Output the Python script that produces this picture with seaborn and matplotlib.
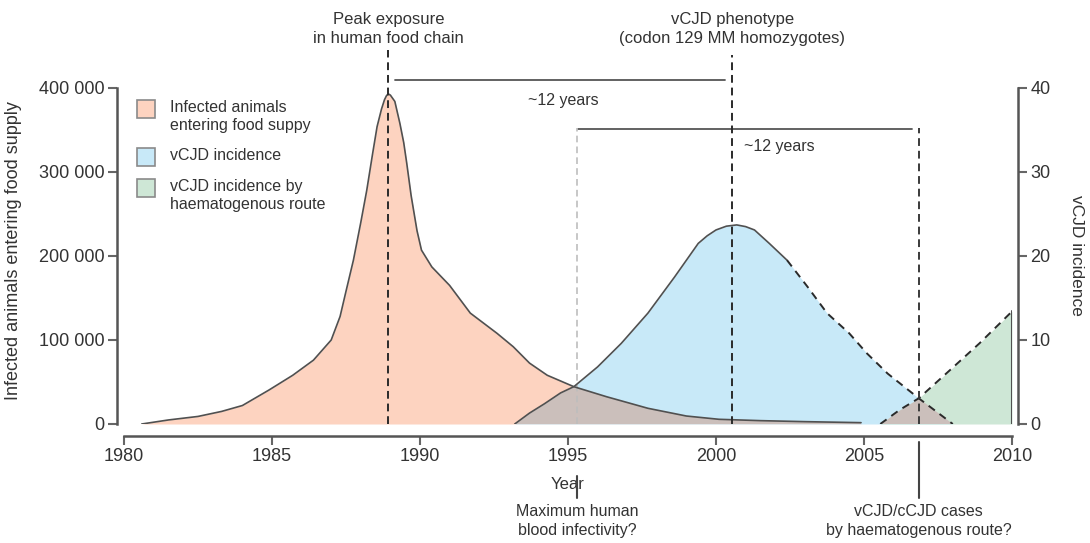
import matplotlib
matplotlib.use("Agg")
import matplotlib.pyplot as plt
from matplotlib.patches import Rectangle
from matplotlib.transforms import blended_transform_factory
import seaborn as sns

# Infected animals entering the food supply (left axis)
years_feed = [1980.6, 1981.5, 1982.5, 1983.3, 1984.0, 1984.9, 1985.7, 1986.4,
              1987.0, 1987.3, 1987.5, 1987.75, 1988.0, 1988.2, 1988.4, 1988.55,
              1988.7, 1988.8, 1988.87, 1988.93, 1989.0, 1989.15, 1989.32, 1989.45,
              1989.55, 1989.7, 1989.8, 1989.9, 1990.05, 1990.4, 1991.0, 1991.7,
              1992.6, 1993.15, 1993.7, 1994.3, 1995.2, 1996.3, 1997.7, 1999.0,
              2000.1, 2001.5, 2003.0, 2004.9]
infected_animals = [0, 4800, 9000, 15000, 22000, 40500, 58000, 76000,
                    100000, 128000, 158000, 195000, 240000, 278000, 322000, 354000,
                    375000, 386000, 391000, 393000, 391500, 384000, 358000, 335000,
                    311000, 272000, 251000, 230000, 207000, 187000, 165000, 132000,
                    108000, 92000, 72500, 58000, 44400, 32500, 18700, 9500,
                    5600, 4000, 2800, 1600]

# vCJD incidence (right axis)
years_vcjd = [1993.2, 1993.7, 1994.2, 1994.75, 1995.2, 1996.0, 1996.8, 1997.7,
              1998.6, 1999.4, 1999.7, 2000.0, 2000.35, 2000.7, 2001.0, 2001.3,
              2001.8, 2002.4, 2003.1, 2003.75, 2004.5, 2005.1, 2005.8, 2006.85,
              2008.0]
vcjd_incidence = [0, 1.3, 2.4, 3.7, 4.45, 6.8, 9.6, 13.2,
                  17.5, 21.5, 22.4, 23.1, 23.55, 23.7, 23.5, 23.1,
                  21.5, 19.5, 16.3, 13.2, 10.8, 8.4, 6.0, 3.06,
                  0]

# vCJD incidence by haematogenous route (right axis)
years_blood = [2005.55, 2006.2, 2006.85, 2007.9, 2008.9, 2010.0]
vcjd_blood = [0, 1.67, 3.06, 6.4, 9.6, 13.4]

x_ticks = [1980, 1985, 1990, 1995, 2000, 2005, 2010]
left_ticks = [0, 100000, 200000, 300000, 400000]
left_tick_labels = ["0", "100 000", "200 000", "300 000", "400 000"]
right_ticks = [0, 10, 20, 30, 40]

legend_labels = ["Infected animals\nentering food suppy",
                 "vCJD incidence",
                 "vCJD incidence by\nhaematogenous route"]

C_ORANGE = "#fdd3c0"
C_BLUE = "#c8e9f8"
C_GREEN = "#cee7d6"
C_OVERLAP = "#cbbfbb"
C_EDGE = "#505050"
C_DASH = "#2a2a2a"
C_SPINE = "#555555"
TEXT = "#333333"

sns.set_theme(style="ticks")
plt.rcParams["font.family"] = ["Liberation Sans", "DejaVu Sans"]

fig = plt.figure(figsize=(10.9, 5.43), dpi=100)
W, H = 1090.0, 543.0
ax = fig.add_axes([124 / W, 1 - 424 / H, 888 / W, 336 / H])
ax2 = ax.twinx()

# Filled areas
feed_fill = ax.fill_between(years_feed, infected_animals, 0, color=C_ORANGE,
                            lw=0, zorder=1)
vcjd_fill = ax2.fill_between(years_vcjd, vcjd_incidence, 0, color=C_BLUE,
                             lw=0, zorder=1)
blood_fill = ax2.fill_between(years_blood, vcjd_blood, 0, color=C_GREEN,
                              lw=0, zorder=1.2)

# Where two areas overlap, show the shared region in a muted tone
overlap_a = ax2.fill_between(years_vcjd, vcjd_incidence, 0, color=C_OVERLAP,
                             lw=0, zorder=1.5)
overlap_a.set_clip_path(feed_fill.get_paths()[0], ax.transData)
overlap_b = ax2.fill_between(years_blood, vcjd_blood, 0, color=C_OVERLAP,
                             lw=0, zorder=1.5)
overlap_b.set_clip_path(vcjd_fill.get_paths()[0], ax2.transData)

# Outlines
ax2.plot(years_feed, infected_animals, transform=ax.transData,
         color=C_EDGE, lw=1.2, zorder=3, solid_joinstyle="round")
sns.lineplot(x=years_vcjd[:18], y=vcjd_incidence[:18], ax=ax2,
             color=C_EDGE, lw=1.2, zorder=3, solid_joinstyle="round")
sns.lineplot(x=years_vcjd[17:], y=vcjd_incidence[17:], ax=ax2,
             color=C_DASH, lw=1.4, linestyle=(0, (4, 3)), zorder=3)
sns.lineplot(x=years_blood, y=vcjd_blood, ax=ax2,
             color=C_DASH, lw=1.4, linestyle=(0, (4, 3)), zorder=3)
ax2.plot([years_blood[-1], years_blood[-1]], [0, vcjd_blood[-1]],
         color=C_EDGE, lw=1.5, zorder=3)

# Axes limits and ticks
ax.set_xlim(1980, 2010)
ax.set_ylim(0, 400000)
ax2.set_ylim(0, 40)
ax.set_xticks(x_ticks)
ax.set_yticks(left_ticks, labels=left_tick_labels)
ax2.set_yticks(right_ticks)
ax2.set_xlim(1980, 2010)

for a in (ax, ax2):
    for s in a.spines.values():
        s.set_color(C_SPINE)
        s.set_linewidth(1.8)
    a.spines["top"].set_visible(False)
    a.tick_params(direction="out", length=6.5, width=1.5, color="#666666",
                  labelsize=13, labelcolor=TEXT, pad=2.5)
    a.grid(False)
ax.spines["right"].set_visible(False)
ax2.spines["left"].set_visible(False)
ax2.spines["bottom"].set_visible(False)
ax.spines["left"].set_position(("outward", 5))
ax.spines["bottom"].set_position(("outward", 8.6))
ax2.spines["right"].set_position(("outward", 4.3))
ax.spines["left"].set_bounds(0, 400000)
ax.spines["bottom"].set_bounds(1980, 2010)
ax2.spines["right"].set_bounds(0, 40)

ax.set_xlabel("Year", fontsize=12, color=TEXT, labelpad=8)
ax.set_ylabel("Infected animals entering food supply", fontsize=13, color=TEXT)
ax.yaxis.set_label_coords((22 - 124) / 888, (424 - 251) / 336)
ax2.set_ylabel("")
fig.text(1076 / W, 1 - 255 / H, "vCJD incidence", rotation=270, ha="center",
         va="center", fontsize=12.5, color=TEXT)

# Reference markers
ax2.axvline(1988.93, ymin=0, ymax=(424 - 50) / 336, clip_on=False,
            color=C_DASH, lw=1.4, linestyle=(0, (4, 2.5)), zorder=4)
ax2.axvline(2000.55, ymin=0, ymax=(424 - 55) / 336, clip_on=False,
            color=C_DASH, lw=1.4, linestyle=(0, (4, 2.5)), zorder=4)
ax2.axvline(2006.85, ymin=0, ymax=(424 - 128) / 336, clip_on=False,
            color="#3a3a3a", lw=1.4, linestyle=(0, (4, 2.5)), zorder=4)
ax2.axvline(1995.3, ymin=0, ymax=(424 - 128) / 336, clip_on=False,
            color="#bdbdbd", lw=1.2, linestyle=(0, (4, 2.5)), zorder=2.5)

ax2.axhline((424 - 80) / 336 * 40, xmin=(395 - 124) / 888, xmax=(725 - 124) / 888,
            clip_on=False, color=C_SPINE, lw=1.3)
ax2.axhline((424 - 129) / 336 * 40, xmin=(578 - 124) / 888, xmax=(912 - 124) / 888,
            clip_on=False, color=C_SPINE, lw=1.3)
ax2.text(1994.85, (424 - 100) / 336 * 40, "~12 years", ha="center", va="center",
         fontsize=11.5, color=TEXT)
ax2.text(2000.95, (424 - 147) / 336 * 40, "~12 years", ha="left", va="center",
         fontsize=11.5, color=TEXT)

# Annotations above and below the plot
top = blended_transform_factory(ax.transData, fig.transFigure)
fig.text(1988.93, 1 - 29 / H, "Peak exposure\nin human food chain", transform=top,
         ha="center", va="center", fontsize=12, color=TEXT, linespacing=1.3)
fig.text(2000.55, 1 - 29 / H, "vCJD phenotype\n(codon 129 MM homozygotes)",
         transform=top, ha="center", va="center", fontsize=12, color=TEXT,
         linespacing=1.3)
fig.text(1995.3, 1 - 521 / H, "Maximum human\nblood infectivity?", transform=top,
         ha="center", va="center", fontsize=11.5, color=TEXT, linespacing=1.3)
fig.text(2006.85, 1 - 521 / H, "vCJD/cCJD cases\nby haematogenous route?",
         transform=top, ha="center", va="center", fontsize=11.5, color=TEXT,
         linespacing=1.3)
fig.lines.append(plt.Line2D([1995.3, 1995.3], [1 - 476 / H, 1 - 498 / H],
                            transform=top, color="#444444", lw=1.5))
fig.lines.append(plt.Line2D([2006.85, 2006.85], [1 - 442 / H, 1 - 498 / H],
                            transform=top, color="#444444", lw=1.5))

# Legend
legend_colors = [C_ORANGE, C_BLUE, C_GREEN]
legend_rows = [109, 157.5, 188]
for label, color, yc in zip(legend_labels, legend_colors, legend_rows):
    fig.patches.append(Rectangle((137 / W, 1 - (yc + 9) / H), 18 / W, 18 / H,
                                 transform=fig.transFigure, facecolor=color,
                                 edgecolor="#8a8a8a", lw=1.2))
    fig.text(170 / W, 1 - (yc - 9) / H, label, ha="left", va="top",
             fontsize=11.5, color=TEXT, linespacing=1.25)

fig.savefig("out.png", dpi=100)
